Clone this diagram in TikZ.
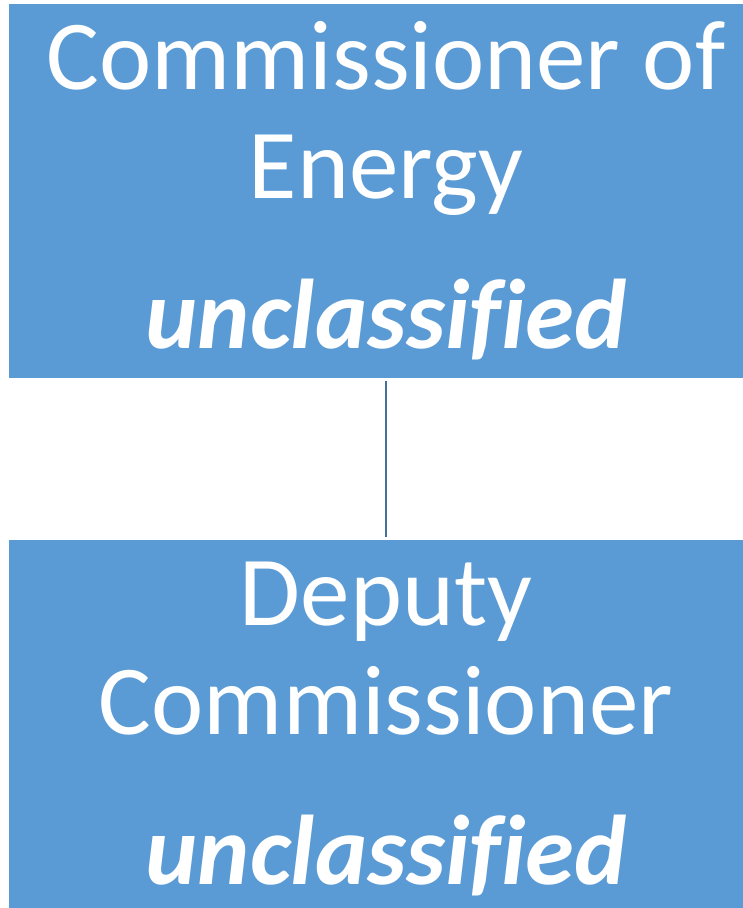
\documentclass[tikz,border=0pt]{standalone}
\usepackage{fontspec}
\setmainfont{Carlito}[Ligatures=CommonOff]
\definecolor{boxblue}{HTML}{5B9BD5}
\definecolor{linkblue}{HTML}{41719C}
\tikzset{
  orgbox/.style={rectangle, fill=boxblue, text=white, inner xsep=0pt, inner ysep=0pt,
    text width=755pt, align=flush center, text height=85pt,
    font=\fontsize{99pt}{109pt}\selectfont},
  link/.style={draw=linkblue, line width=2pt, shorten <=3pt, shorten >=3pt}
}
\begin{document}
\begin{tikzpicture}
\useasboundingbox (0pt,0pt) rectangle (743pt,-908pt);
\node[orgbox, text depth=289pt] (top) at (386pt,-191pt)
  {Commissioner of\\Energy\\[41pt]\textbf{\textit{unclassified}}};
\node[orgbox, text depth=290pt] (bottom) at (386pt,-727.5pt)
  {Deputy\\Commissioner\\[41pt]\textbf{\textit{unclassified}}};
\draw[link] (top.south) -- (bottom.north);
\end{tikzpicture}
\end{document}
